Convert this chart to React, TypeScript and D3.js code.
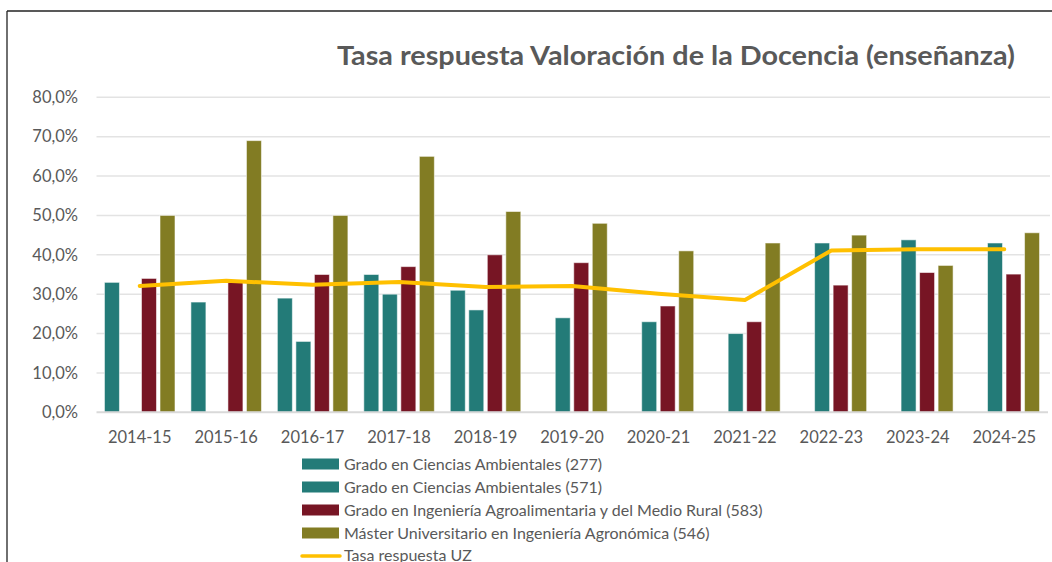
import React from "react";
import * as d3 from "d3";

const years = ["2014-15","2015-16","2016-17","2017-18","2018-19","2019-20","2020-21","2021-22","2022-23","2023-24","2024-25"];
const seriesNames = [
  "Grado en Ciencias Ambientales (277)",
  "Grado en Ciencias Ambientales (571)",
  "Grado en Ingeniería Agroalimentaria y del Medio Rural (583)",
  "Máster Universitario en Ingeniería Agronómica (546)",
];
const seriesColors = ["#237b78", "#237b78", "#771524", "#827c23"];
const ambientales277: (number | null)[] = [33.0, 28.0, 29.0, 35.0, 31.0, null, null, null, null, null, null];
const ambientales571: (number | null)[] = [null, null, 18.0, 30.0, 26.0, 24.0, 23.0, 20.0, 43.0, 43.8, 43.0];
const agroalimentaria583: (number | null)[] = [34.0, 33.2, 35.0, 37.0, 40.0, 38.0, 27.0, 23.0, 32.3, 35.5, 35.1];
const master546: (number | null)[] = [50.0, 69.0, 50.0, 65.0, 51.0, 48.0, 41.0, 43.0, 45.0, 37.3, 45.6];
const tasaUZ: number[] = [32.1, 33.4, 32.4, 33.1, 31.8, 32.1, 30.1, 28.5, 41.1, 41.4, 41.4];
const yTicks = [0, 10, 20, 30, 40, 50, 60, 70, 80];
const lineName = "Tasa respuesta UZ";
const title = "Tasa respuesta Valoración de la Docencia (enseñanza)";

const W = 1052, H = 562;
const FONT = "Lato, 'Liberation Sans', sans-serif";
const TXT = "#595959";

export default function App() {
  const allSeries = [ambientales277, ambientales571, agroalimentaria583, master546];
  const x0 = d3.scaleBand<string>().domain(years).range([96.5, 1047.5]).padding(0);
  const x1 = d3.scaleBand<number>().domain([0, 1, 2, 3]).range([0, x0.bandwidth()]).paddingInner(0.19).paddingOuter(0.43);
  const y = d3.scaleLinear().domain([0, 80]).range([412.3, 97.3]);
  const fmt = (v: number) => v.toFixed(1).replace(".", ",") + "%";
  const line = d3.line<number>()
    .x((_, i) => (x0(years[i]) as number) + x0.bandwidth() / 2)
    .y((d) => y(d));

  return (
    <div style={{ position: "fixed", left: 0, top: 0 }}>
      <svg width={W} height={H} style={{ display: "block", background: "#fff" }} fontFamily={FONT}>
        <rect x={0} y={0} width={W} height={H} fill="#fff" />
        {/* frame */}
        <line x1={7} y1={11} x2={W} y2={11} stroke="#222" strokeWidth={1.3} />
        <line x1={7} y1={11} x2={7} y2={H} stroke="#222" strokeWidth={1.3} />
        {/* title */}
        <text x={676} y={65} textAnchor="middle" fontSize={26} fontWeight="bold" fill={TXT}
          textLength={678} lengthAdjust="spacingAndGlyphs">{title}</text>
        {/* gridlines */}
        {yTicks.map((t) => (
          <g key={t}>
            {t > 0 && <line x1={96.5} x2={1050} y1={y(t)} y2={y(t)} stroke="#e3e3e3" strokeWidth={1.5} />}
            <text x={78} y={y(t)} dy="0.35em" textAnchor="end" fontSize={16.5} fill={TXT}>{fmt(t)}</text>
          </g>
        ))}
        {/* bars */}
        {years.map((yr, i) => (
          <g key={yr} transform={`translate(${x0(yr)},0)`}>
            {allSeries.map((s, k) => {
              const v = s[i];
              if (v == null) return null;
              return (
                <rect key={k} x={x1(k)} y={y(v)} width={x1.bandwidth()} height={y(0) - y(v)}
                  fill={seriesColors[k]} stroke="#ffffff" strokeOpacity={0.55} strokeWidth={1} />
              );
            })}
          </g>
        ))}
        {/* axis */}
        <line x1={96.5} x2={1048} y1={y(0)} y2={y(0)} stroke="#d9d9d9" strokeWidth={2} />
        {years.map((yr) => (
          <text key={yr} x={(x0(yr) as number) + x0.bandwidth() / 2} y={443} textAnchor="middle" fontSize={16.5} fill={TXT}>{yr}</text>
        ))}
        {/* line */}
        <path d={line(tasaUZ) || ""} fill="none" stroke="#ffc000" strokeWidth={4} strokeLinejoin="round" strokeLinecap="round" />
        {/* legend */}
        {seriesNames.map((n, k) => {
          const cy = 464 + k * 23;
          return (
            <g key={n}>
              <rect x={302} y={cy - 5.5} width={37} height={11} fill={seriesColors[k]} />
              <text x={344} y={cy} dy="0.35em" fontSize={16} fill={TXT}>{n}</text>
            </g>
          );
        })}
        <line x1={302} x2={340} y1={556} y2={556} stroke="#ffc000" strokeWidth={3.5} strokeLinecap="round" />
        <text x={344} y={555} dy="0.35em" fontSize={16} fill={TXT}>{lineName}</text>
      </svg>
    </div>
  );
}
